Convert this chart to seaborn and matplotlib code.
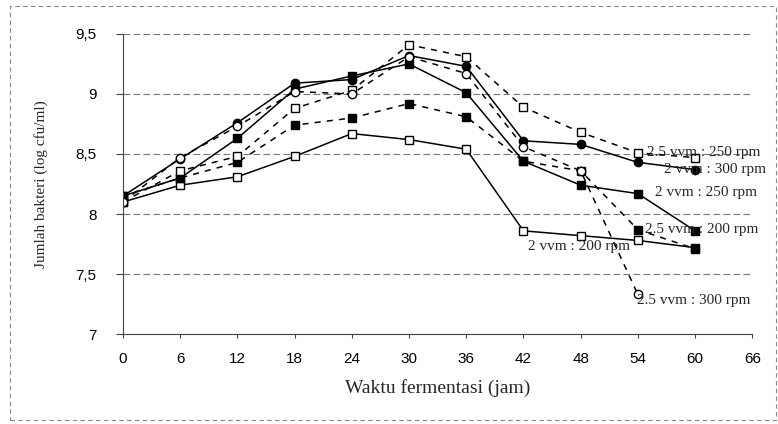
import numpy as np
import matplotlib
matplotlib.use("Agg")
import matplotlib.pyplot as plt
from matplotlib.patches import Rectangle
import seaborn as sns

# fermentation time (jam)
hours = [0, 6, 12, 18, 24, 30, 36, 42, 48, 54, 60]

# bacteria count (log cfu/ml) per aeration / agitation setting
v2_200 = [8.10, 8.24, 8.31, 8.48, 8.67, 8.62, 8.54, 7.86, 7.82, 7.78, 7.72]
v2_250 = [8.15, 8.30, 8.63, 9.04, 9.15, 9.25, 9.01, 8.44, 8.24, 8.17, 7.86]
v2_300 = [8.15, 8.46, 8.76, 9.09, 9.12, 9.32, 9.23, 8.61, 8.58, 8.43, 8.37]
v25_200 = [8.15, 8.30, 8.43, 8.74, 8.80, 8.92, 8.81, 8.44, 8.36, 7.87, 7.71]
v25_250 = [8.10, 8.36, 8.48, 8.88, 9.03, 9.41, 9.31, 8.89, 8.68, 8.51, 8.47]
v25_300 = [8.10, 8.47, 8.73, 9.02, 9.00, 9.31, 9.17, 8.56, 8.36, 7.33, np.nan]

labels = ["2 vvm : 200 rpm", "2 vvm : 250 rpm", "2 vvm : 300 rpm",
          "2.5 vvm : 200 rpm", "2.5 vvm : 250 rpm", "2.5 vvm : 300 rpm"]

# (line style, marker, filled)
styles = [("-", "s", False), ("-", "s", True), ("-", "o", True),
          ("--", "s", True), ("--", "s", False), ("--", "o", False)]

# where each series name is written on the chart (data units)
label_pos = [(42.5, 7.73), (55.8, 8.18), (56.7, 8.37),
             (54.7, 7.87), (55.0, 8.51), (53.9, 7.28)]

sns.set_theme(style="white")
plt.rcParams['font.family'] = ['Liberation Sans', 'DejaVu Sans']
serif = ['Liberation Serif', 'DejaVu Serif']

fig = plt.figure(figsize=(7.78, 4.24), dpi=100)
ax = fig.add_axes([0.158, 0.212, 0.809, 0.708])

series = [v2_200, v2_250, v2_300, v25_200, v25_250, v25_300]
for vals, (ls, mk, filled) in zip(series, styles):
    sns.lineplot(x=hours, y=vals, ax=ax, color="black", linewidth=1.1,
                 marker=mk, markersize=6, markeredgecolor="black",
                 markeredgewidth=1.0,
                 markerfacecolor="black" if filled else "white")
    if ls == "--":
        ax.lines[-1].set_dashes((4, 4))

for lab, (tx, ty) in zip(labels, label_pos):
    ax.text(tx, ty, lab, family=serif, fontsize=11, va="center", ha="left",
            clip_on=False)

ax.set_xlim(0, 66)
ax.set_ylim(7, 9.5)
ax.set_xticks(range(0, 67, 6))
ax.set_yticks([7, 7.5, 8, 8.5, 9, 9.5])
ax.set_yticklabels(["7", "7,5", "8", "8,5", "9", "9,5"])

ax.grid(axis="y", color="#777777", linestyle=(0, (6, 3)), linewidth=0.8)
ax.grid(axis="x", visible=False)
for s in ["top", "right"]:
    ax.spines[s].set_visible(False)
for s in ["left", "bottom"]:
    ax.spines[s].set_color("#444444")
    ax.spines[s].set_linewidth(0.8)

ax.tick_params(axis="both", labelsize=11, colors="black")
ax.tick_params(axis="y", length=5, width=0.8, pad=14, left=True, color="#444444")
ax.tick_params(axis="x", length=3, width=0.8, pad=10, bottom=True, color="#444444")

ax.set_xlabel("Waktu fermentasi (jam)", family=serif, fontsize=14, labelpad=9)
ax.set_ylabel("Jumlah bakteri (log cfu/ml)", family=serif, fontsize=11, labelpad=20)

# scanned outer frame
fig.patches.append(Rectangle((0.013, 0.01), 0.985, 0.975, transform=fig.transFigure,
                             fill=False, edgecolor="#888888", linewidth=0.8,
                             linestyle=(0, (4, 3))))

fig.savefig("out.png", dpi=100)
